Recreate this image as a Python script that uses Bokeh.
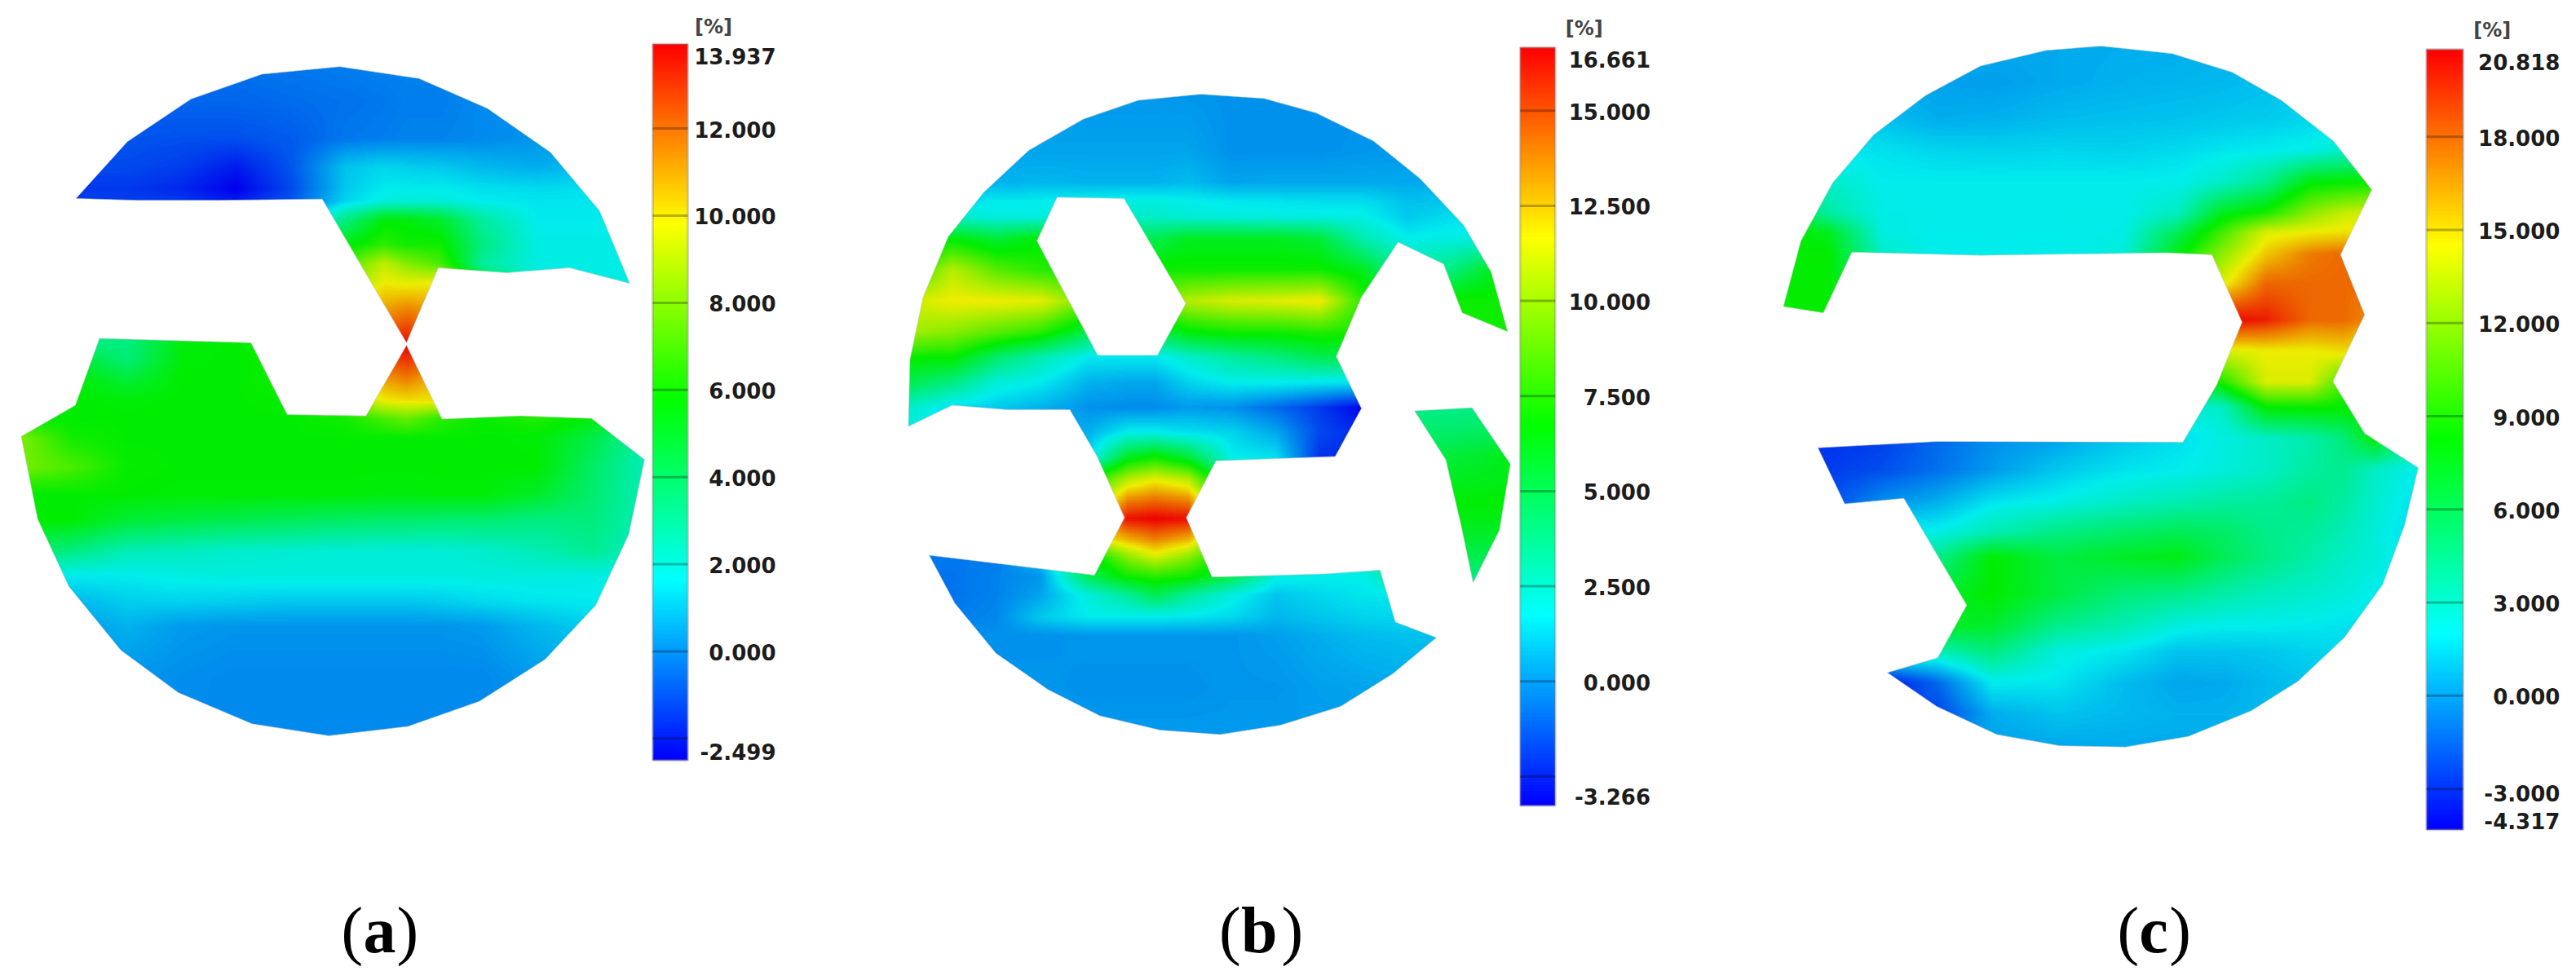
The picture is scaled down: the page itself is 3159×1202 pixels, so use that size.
from bokeh.plotting import figure
from bokeh.layouts import row
from bokeh.models import LinearColorMapper, Range1d
from bokeh.core.properties import value
from bokeh.embed import file_html
from bokeh.resources import INLINE
import numpy as np

# ---------- data: all geometry in "picture units" ----------
a_low, a_high = -2.499, 13.937
a_bar_x = (1192, 1256)
a_zero_y, a_slope = 1042, 69.75
a_ticks = [12, 10, 8, 6, 4, 2, 0, -2]
a_labels = ["13.937", "12.000", "10.000", "8.000", "6.000", "4.000", "2.000", "0.000", "-2.499"]
a_label_vals = [13.937, 12, 10, 8, 6, 4, 2, 0, -2.499]
a_label_off = [15, 1, 1, 1, 1, 1, 1, 1, -11]
a_label_x = 1417
a_unit_pos = (1303, 43)
a_polys = [
    [(138,317),(232,226),(348,158),(478,118),(620,106),(765,125),(890,173),(1005,243),(1095,337),(1150,453),(1040,428),(925,436),(800,428),(742,548),(588,318),(400,320),(250,320)],
    [(742,552),(807,670),(950,665),(1080,669),(1177,735),(1148,855),(1088,968),(995,1055),(875,1122),(745,1162),(600,1177),(460,1158),(325,1108),(220,1040),(125,938),(68,830),(38,698),(137,648),(181,541),(458,548),(524,663),(668,665)],
]
a_holes = []
a_x = [30,130,230,330,430,530,630,700,742,800,880,980,1080,1180]
a_y = [100,160,220,265,300,320,350,390,420,450,490,530,550,575,610,640,668,700,745,790,830,880,920,960,1000,1080,1180]
a_v = [
 [-.6,-.6,-.6,-.5,-.5,-.4,-.3,-.2,-.2,-.2,-.1,0,.1,.2],
 [-.8,-.8,-.8,-.7,-.7,-.6,-.5,-.4,-.3,-.3,-.1,0,.2,.2],
 [-1,-1,-1,-1.1,-1.1,-.9,-.4,-.3,-.2,-.2,-.1,.1,.3,.5],
 [-1.2,-1.2,-1.2,-1.4,-2,-1,.9,1.2,1.1,1,.7,.5,.8,1],
 [-1.5,-1.5,-1.5,-1.8,-2.5,-1.2,1,1.6,1.6,1.6,1.4,1.3,1.4,1.5],
 [-1.4,-1.4,-1.4,-1.5,-2,-1,1.2,1.9,2,2,1.6,1.5,1.5,1.5],
 [-1,-1,-1,-1,-1,0,3.5,5.5,5.5,5,3,1.6,1.6,1.6],
 [0,0,0,0,0,3,5.5,6.5,6,6,3.5,1.8,1.8,1.8],
 [0,0,0,0,0,5,7,9,8,7,3,1.8,1.8,1.8],
 [0,0,0,0,0,7,8,9.8,9.6,9.8,5,1.8,1.8,1.8],
 [5,5,5,5,5,9,10,11,11.5,11,6,2,2,2],
 [3.5,3.5,3.5,5.5,5.7,6,10,12.5,13,12,6,3,3,3],
 [3.5,3.5,3.5,5.5,5.7,6,10,13.5,13.9,13,6,4,4,4],
 [5,5,3.7,5.6,5.7,6,10,12.5,13,12,6,5,5,5],
 [5.7,5.7,4.9,5.7,5.7,6,9,11,11.5,10.5,6,5.7,5.7,5.7],
 [5.7,5.7,5.6,5.7,5.7,5.8,8,9.8,10,10,6,5.7,5.7,5.7],
 [5.7,5.7,5.7,5.7,5.7,5.7,6,7,7.5,6.5,5.8,6.3,5.5,5],
 [8,6,5.7,5.7,5.7,5.7,5.7,5.7,5.7,5.7,5.7,5.6,4.5,2.6],
 [7.8,7,5.8,5.7,5.7,5.7,5.7,5.7,5.7,5.7,5.7,5.7,4,2.5],
 [5.7,5.7,5.7,5.6,5.6,5.6,5.6,5.5,5.5,5.6,5.6,5,3.8,2.5],
 [5.7,5.7,4.8,4.6,4.4,4.2,4,3.9,3.9,3.8,3.8,3.5,3.6,2.5],
 [4,3.5,2.6,2.4,2.2,2.1,2,2,2,2,2.2,2.6,3.2,2.2],
 [1.6,1.6,1.6,1.8,1.9,1.9,1.9,1.9,1.9,1.9,1.9,1.9,1.8,1.8],
 [.7,.7,1.1,1.2,1.1,1,1,1,1,1.1,1.3,1.5,1.6,1.6],
 [.2,.2,.6,.2,.1,.1,.1,.1,.1,.1,.2,.7,1.1,1.1],
 [0,0,.1,0,-.1,-.1,-.1,-.1,-.1,-.1,-.1,.2,.3,.3],
 [-.1,-.1,-.1,-.1,-.1,-.1,-.1,-.1,-.1,-.1,-.1,-.1,-.1,-.1],
]
a_caption = [("(", 623, "normal"), ("a", 663, "bold"), (")", 724, "normal")]

b_low, b_high = -3.266, 16.661
b_bar_x = (1208, 1272)
b_zero_y, b_slope = 1090, 60.9
b_ticks = [15, 12.5, 10, 7.5, 5, 2.5, 0, -2.5]
b_labels = ["16.661", "15.000", "12.500", "10.000", "7.500", "5.000", "2.500", "0.000", "-3.266"]
b_label_vals = [16.661, 15, 12.5, 10, 7.5, 5, 2.5, 0, -3.266]
b_label_off = [15, 1, 1, 1, 1, 1, 1, 1, -11]
b_label_x = 1446
b_unit_pos = (1325, 45)
b_polys = [
    [(90,682),(93,575),(117,475),(163,378),(228,307),(310,240),(410,190),(510,160),(625,150),(740,157),(835,180),(940,225),(1025,285),(1105,360),(1155,435),(1185,530),(1102,500),(1068,422),(985,387),(918,475),(872,570),(918,653),(870,730),(652,737),(598,828),(645,923),(850,918),(952,912),(980,995),(1055,1020),(975,1078),(880,1130),(770,1160),(660,1175),(550,1168),(440,1145),(345,1103),(250,1045),(175,965),(128,888),(430,920),(485,828),(435,730),(385,655),(270,655),(170,648)],
    [(1015,657),(1120,652),(1190,742),(1170,848),(1122,932),(1100,840),(1072,735)],
]
b_holes = [[(362,315),(484,317),(597,485),(545,568),(436,568),(325,385)]]
b_x = [90,170,250,330,420,490,540,600,680,760,840,920,1000,1080,1190]
b_y = [150,240,290,320,345,380,430,480,530,570,610,650,690,730,765,800,828,860,890,920,950,985,1015,1100,1175]
b_v = [
 [0,0,0,0,-.1,-.1,-.1,-.1,-.2,-.2,-.2,-.2,-.2,-.2,-.2],
 [.2,.2,.2,.2,.2,.2,.2,.2,-.2,-.2,-.2,-.1,0,.1,.1],
 [.5,.5,.5,.6,.5,.5,.5,.7,.2,.3,.3,.3,.3,.4,.4],
 [1,1.2,1.7,1.7,1.9,2,2,1.8,1.6,1.5,1.4,1.4,.8,.9,.9],
 [2.5,2.5,2,2,2.3,2.5,2.5,2.2,2.1,2,2,1.9,1,1.4,1.4],
 [5,6.5,5.5,6.5,6,5,5,6,6,6,5.5,3,1.8,2,2],
 [7.5,10.5,8.5,7.5,7,7,7,7,7,7,7,6,3,4,7],
 [11,11.7,11.7,11.5,9,9,9,10.5,11.2,11.4,11.8,7.5,6,7,7],
 [10,9.5,8.5,7.5,5,5,5,6.5,7,7,7.4,7,7,7,7],
 [6.8,6.8,4.5,3,1.6,1.6,1.6,2.4,3.3,4,5,5,5,5,5],
 [5,4,2.2,1.7,.5,.3,.3,1.2,1.8,1.8,1.6,1.5,2,3,4],
 [2.5,1.4,1,.5,-.2,-.3,-.3,0,-.2,-1,-2,-3.2,3.8,3.8,4],
 [2,1,.5,.3,.5,1.8,1.8,1.5,1.2,.3,-1.7,-2.5,4.5,4.5,5],
 [1,1,1,1,1.5,6,7,5.5,1.8,1.5,-2.2,-2.5,5,5.5,6.2],
 [1,1,1,3,7,10.5,11.5,10.5,4,3,3,4,5,6,6.3],
 [5,5,5,6,9,14,14.5,14,6,5,5,5,5.5,6.6,6.6],
 [5,5,5,7,12,16.3,16.6,16.3,8,5,5,5,5.5,6.3,6.3],
 [4,4,4,6,11,13,14,13,7,4,4,4,5,5.6,5.8],
 [-.7,-.7,-.7,1,6,9.5,11,9.5,6,2,2,3,4.5,5,5],
 [-.8,-.8,-.5,-.1,5,7,7.5,7,5,2,1.8,1.8,4,4,4],
 [-.8,-.8,-.5,.2,2.2,3.5,5,3.5,2,.9,1.3,1.6,1.6,1.6,1.6],
 [-.6,-.6,-.4,1,1.7,1.7,1.7,1.6,1.3,.6,.9,1.2,1.3,1.2,1.2],
 [-.3,-.3,-.2,-.2,-.1,-.1,-.1,-.1,-.1,.1,.4,.7,.8,.7,.7],
 [-.1,-.1,-.1,-.1,-.2,-.2,-.2,-.2,-.1,-.1,.1,.2,.3,.3,.3],
 [0,0,0,0,0,0,0,0,0,0,0,0,0,0,0],
]
b_caption = [("(", 658, "normal"), ("b", 698, "bold"), (")", 772, "normal")]

c_low, c_high = -4.317, 20.818
c_bar_x = (1295, 1362)
c_zero_y, c_slope = 1113, 49.7
c_ticks = [18, 15, 12, 9, 6, 3, 0, -3]
c_labels = ["20.818", "18.000", "15.000", "12.000", "9.000", "6.000", "3.000", "0.000", "-3.000", "-4.317"]
c_label_vals = [20.818, 18, 15, 12, 9, 6, 3, 0, -3, -4.317]
c_label_off = [15, 1, 1, 1, 1, 1, 1, 1, 5, -11]
c_label_x = 1539
c_unit_pos = (1415, 47)
c_polys = [
    [(120,490),(152,385),(210,292),(285,215),(380,152),(480,105),(600,80),(700,73),(830,85),(940,115),(1030,160),(1125,225),(1195,303),(1138,407),(1182,503),(1124,610),(1182,693),(1280,748),(1255,840),(1215,935),(1145,1020),(1060,1090),(975,1137),(860,1178),(745,1195),(625,1193),(510,1175),(400,1130),(310,1076),(402,1052),(455,968),(340,797),(232,806),(183,716),(400,706),(850,707),(912,615),(958,515),(903,407),(820,404),(480,408),(245,403),(193,500)],
]
c_holes = []
c_x = [120,200,300,400,500,620,740,840,920,1000,1080,1140,1200,1280]
c_y = [73,130,190,240,290,340,370,405,450,510,560,610,650,700,750,800,850,890,950,1000,1040,1090,1140,1195]
c_v = [
 [.3,.3,.3,.3,.2,.2,.3,.3,.4,.5,.6,.7,.8,.8],
 [.5,.5,.2,0,-.1,.2,.4,.5,.6,.8,1,1,1,1],
 [.8,.8,.8,.3,.4,.7,.8,.9,1,1.1,1.4,1.6,1.6,1.6],
 [1.8,1.8,1.7,1.4,1.3,1.4,1.3,1.5,1.8,2,2.2,3,3,3],
 [4,3,2,2,2,2,2,2.1,3,4.5,8,8.3,8.5,8.5],
 [7,4,2.2,2.1,2.1,2.1,2.1,3.2,7.5,9,12,13.5,14,14],
 [8.5,7.5,2.3,2,2,2,2.2,6,10,14,14.5,14.8,14.5,14],
 [8.3,8.3,3,2,2,2,2.5,7.8,12,15.5,17.5,18,18,18],
 [8.3,8.3,5,5,5,5,5,9,14,18,18,18,18,18],
 [8.3,8.3,5,5,5,5,5,10,20.8,20,18,18,17,17],
 [8,8,5,5,5,5,5,9,14,14.5,14.5,15,14,13],
 [5,5,4,4,3,3,3,5,9,14,14,10,9,9],
 [2,2,2,2,2,2,2,2.5,3,8.3,8.5,8.3,8,8],
 [-3,-3,-2.6,-1.5,-.5,0,1,1.6,2.3,3,3.7,5,8,3],
 [-2.7,-2.7,-2.2,-1.3,-.2,1,1.7,2,2.4,3,4,4.5,3,2],
 [-2.3,-2.3,-.5,.3,1.7,2.2,3,3.5,4,4.2,4.8,4,2.8,1.5],
 [2.2,2.2,2.2,2.2,3.5,4.8,5.5,6,5.6,4.6,4.2,3.5,2.5,1.2],
 [4,4,4,4.5,8.2,6.5,7.3,7.7,6,4.8,3.8,3,2.5,1.5],
 [7,7,7,7,8.3,6.5,5,4.5,3.8,3.2,2.8,2.5,2,1.5],
 [7.5,7.5,7.5,7.5,7,4.5,3.5,2.3,2,2,1.9,1.7,1.5,1.5],
 [3.5,3.5,3.5,3.5,5,2.4,1.8,.9,.9,1,1.3,1.4,1.4,1.4],
 [-3.8,-3.8,-3.8,-1.5,2,1.8,.7,.1,.2,.6,.9,.9,.9,.9],
 [-2.5,-2.5,-2.5,-2.5,.3,.9,.6,.4,.4,.6,.6,.6,.6,.6],
 [0,0,0,0,0,.1,.2,.2,.2,.2,.2,.2,.2,.2],
]
c_caption = [("(", 730, "normal"), ("c", 770, "bold"), (")", 825, "normal")]

# ---------- figure frame ----------
UX, UY = 1.49, 1.305        # picture units per screen pixel
PANEL_W, PAGE_H = 1053, 1202
CAPTION_Y = 1488
STOPS = [(0, 0, 255), (0, 255, 255), (0, 255, 0), (255, 255, 0), (255, 0, 0)]


def ramp(shade):
    out = []
    for i in range(256):
        t = i / 255 * 4
        k = min(int(t), 3)
        f = t - k
        c = [(STOPS[k][j] * (1 - f) + STOPS[k + 1][j] * f) * shade for j in range(3)]
        out.append("#%02x%02x%02x" % tuple(int(round(v)) for v in c))
    return out


FIELD_PAL = ramp(0.93)
BAR_PAL = ramp(1.0)


def resample(xs, ys, vals, step=2):
    xs, ys, vals = np.array(xs, float), np.array(ys, float), np.array(vals, float)
    gx = np.arange(xs[0], xs[-1] + step, step)
    gy = np.arange(ys[0], ys[-1] + step, step)
    rows = np.array([np.interp(gx, xs, r) for r in vals])
    grid = np.array([np.interp(gy, ys, rows[:, j]) for j in range(len(gx))]).T
    return grid.astype("float32"), gx, gy


def panel(low, high, bar_x, zero_y, slope, ticks, labels, label_vals,
          label_off, label_x, unit_pos, polys, holes, xs, ys, vals, caption):
    x1 = PANEL_W * UX
    y_bot = PAGE_H * UY
    p = figure(width=PANEL_W, height=PAGE_H, output_backend="svg", toolbar_location=None,
               x_range=Range1d(0, x1), y_range=Range1d(y_bot, 0), min_border=0)
    p.axis.visible = False
    p.grid.visible = False
    p.outline_line_color = None
    p.background_fill_color = "white"
    p.border_fill_color = "white"

    grid, gx, gy = resample(xs, ys, vals)
    mapper = LinearColorMapper(palette=FIELD_PAL, low=low, high=high)
    p.image(image=[grid], x=gx[0], y=gy[0], dw=gx[-1] - gx[0] + 2, dh=gy[-1] - gy[0] + 2,
            color_mapper=mapper)

    # white mask around the plate outline (outer frame lies past the visible range)
    rx = [-50, x1 + 50, x1 + 50, -50]
    ry = [-50, -50, y_bot + 50, y_bot + 50]
    mx = [rx] + [[q[0] for q in poly] for poly in polys]
    my = [ry] + [[q[1] for q in poly] for poly in polys]
    p.multi_polygons(xs=[[mx]], ys=[[my]], fill_color="white", line_color="#c8c8c8",
                     line_width=1, line_alpha=0.6)
    for h in holes:
        p.patch([q[0] for q in h], [q[1] for q in h], fill_color="white",
                line_color="#c8c8c8", line_width=1, line_alpha=0.6)

    # colour bar on its own value range
    p.extra_y_ranges = {"cb": Range1d((zero_y - y_bot) / slope, zero_y / slope)}
    bar = np.linspace(low, high, 256).reshape(-1, 1).astype("float32")
    bar_map = LinearColorMapper(palette=BAR_PAL, low=low, high=high)
    p.image(image=[bar], x=bar_x[0], y=low, dw=bar_x[1] - bar_x[0], dh=high - low,
            color_mapper=bar_map, y_range_name="cb")
    p.quad(left=bar_x[0], right=bar_x[1], bottom=low, top=high, fill_color=None,
           line_color="#808080", line_alpha=0.35, line_width=3, y_range_name="cb")
    p.segment(x0=[bar_x[0]] * len(ticks), x1=[bar_x[1]] * len(ticks), y0=ticks, y1=ticks,
              line_color="black", line_alpha=0.28, line_width=3, y_range_name="cb")
    p.text(x=[label_x] * len(labels), y=label_vals, text=labels, y_offset=label_off,
           text_font=value("DejaVu Sans"), text_font_style="bold", text_font_size="26px",
           text_color="#1c1c1c", text_align="right", text_baseline="middle", y_range_name="cb")
    p.text(x=[unit_pos[0]], y=[unit_pos[1]], text=["[%]"], text_font=value("DejaVu Sans"),
           text_font_style="bold", text_font_size="24px", text_color="#444444",
           text_align="center", text_baseline="middle")

    for txt, cx, style in caption:
        p.text(x=[cx], y=[CAPTION_Y], text=[txt], text_font=value("Liberation Serif"),
               text_font_style=style, text_font_size="80px", text_color="black",
               text_align="left", text_baseline="alphabetic")
    return p


pa = panel(a_low, a_high, a_bar_x, a_zero_y, a_slope, a_ticks, a_labels, a_label_vals,
           a_label_off, a_label_x, a_unit_pos, a_polys, a_holes, a_x, a_y, a_v, a_caption)
pb = panel(b_low, b_high, b_bar_x, b_zero_y, b_slope, b_ticks, b_labels, b_label_vals,
           b_label_off, b_label_x, b_unit_pos, b_polys, b_holes, b_x, b_y, b_v, b_caption)
pc = panel(c_low, c_high, c_bar_x, c_zero_y, c_slope, c_ticks, c_labels, c_label_vals,
           c_label_off, c_label_x, c_unit_pos, c_polys, c_holes, c_x, c_y, c_v, c_caption)

layout = row(pa, pb, pc, spacing=0)
open("out.html", "w").write(file_html(layout, INLINE))
